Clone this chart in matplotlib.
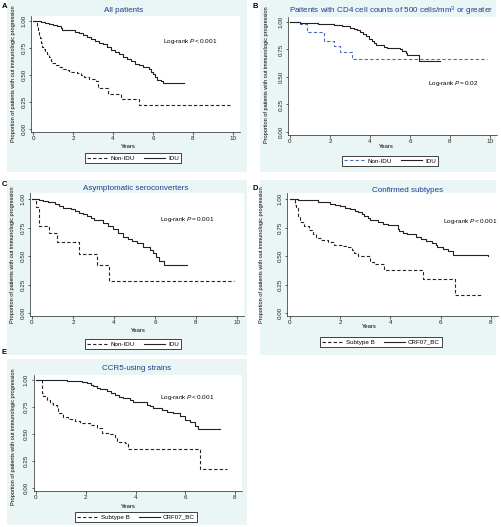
import matplotlib
matplotlib.use('Agg')
import matplotlib.pyplot as plt
from matplotlib.patches import Rectangle
from matplotlib.lines import Line2D

plt.rcParams['font.family'] = ['Liberation Sans', 'DejaVu Sans']
plt.rcParams['mathtext.fontset'] = 'custom'
plt.rcParams['mathtext.rm'] = 'Liberation Sans'
plt.rcParams['mathtext.it'] = 'Liberation Sans:italic'

W, H = 502, 527
BG = '#e9f6f5'
NAVY = '#203c8c'
INK = '#222222'
BLUE = '#4a6fb5'
YLAB = 'Proportion of patients with out immunologic progression'

# ---- data (years, proportion without progression) ----
# A: all patients
a_idu_t = [0, 0.4, 0.6, 0.8, 1.0, 1.2, 1.4, 1.45, 1.9, 2.1, 2.3, 2.5, 2.7, 2.9, 3.1, 3.3, 3.5, 3.7,
           3.9, 4.1, 4.3, 4.5, 4.7, 4.9, 5.1, 5.3, 5.5, 5.8, 5.9, 6.0, 6.1, 6.2, 6.4, 6.5, 7.55]
a_idu_s = [1.0, 0.995, 0.985, 0.975, 0.965, 0.955, 0.935, 0.92, 0.915, 0.90, 0.885, 0.87, 0.855,
           0.835, 0.815, 0.80, 0.785, 0.76, 0.735, 0.71, 0.69, 0.665, 0.645, 0.625, 0.605, 0.59,
           0.575, 0.555, 0.53, 0.505, 0.48, 0.455, 0.445, 0.425, 0.425]
a_non_t = [0, 0.2, 0.25, 0.3, 0.35, 0.4, 0.45, 0.55, 0.62, 0.72, 0.8, 0.88, 0.95, 1.13, 1.3, 1.47,
           1.65, 1.8, 2.2, 2.4, 2.55, 2.8, 3.15, 3.25, 3.75, 4.4, 5.3, 9.85]
a_non_s = [1.0, 0.95, 0.91, 0.87, 0.84, 0.80, 0.76, 0.74, 0.71, 0.69, 0.67, 0.63, 0.61, 0.59, 0.575,
           0.56, 0.545, 0.53, 0.515, 0.50, 0.485, 0.46, 0.44, 0.38, 0.32, 0.28, 0.225, 0.225]

# B: CD4 >= 500
b_idu_t = [0, 0.5, 1.4, 2.2, 2.6, 3.0, 3.2, 3.35, 3.5, 3.65, 3.8, 3.95, 4.1, 4.2, 4.3, 4.7, 4.85,
           5.5, 5.6, 5.8, 5.85, 6.45, 7.5]
b_idu_s = [1.0, 0.99, 0.98, 0.97, 0.96, 0.95, 0.94, 0.925, 0.91, 0.895, 0.87, 0.85, 0.83, 0.81,
           0.79, 0.775, 0.76, 0.75, 0.735, 0.72, 0.70, 0.645, 0.645]
b_non_t = [0, 0.5, 0.85, 1.7, 2.2, 2.5, 3.1, 9.85]
b_non_s = [1.0, 0.98, 0.91, 0.83, 0.78, 0.73, 0.66, 0.66]

# C: asymptomatic seroconverters
c_idu_t = [0, 0.35, 0.55, 0.8, 1.1, 1.3, 1.5, 1.9, 2.1, 2.3, 2.5, 2.7, 2.9, 3.0, 3.45, 3.7, 3.95,
           4.2, 4.45, 4.7, 4.9, 5.1, 5.4, 5.75, 5.9, 6.05, 6.2, 6.45, 7.55]
c_idu_s = [1.0, 0.99, 0.98, 0.97, 0.955, 0.94, 0.925, 0.91, 0.895, 0.88, 0.87, 0.85, 0.83, 0.815,
           0.79, 0.765, 0.735, 0.70, 0.67, 0.65, 0.63, 0.61, 0.58, 0.555, 0.53, 0.49, 0.46, 0.425,
           0.425]
c_non_t = [0, 0.2, 0.35, 0.85, 1.2, 2.3, 3.15, 3.75, 9.85]
c_non_s = [1.0, 0.93, 0.76, 0.70, 0.62, 0.52, 0.42, 0.28, 0.28]

# D: confirmed subtypes
d_crf_t = [0, 0.3, 0.5, 1.1, 1.6, 1.8, 2.0, 2.2, 2.4, 2.6, 2.7, 2.85, 2.95, 3.1, 3.2, 3.5, 3.7,
           3.9, 4.3, 4.35, 4.5, 4.67, 5.0, 5.2, 5.4, 5.67, 5.8, 5.87, 6.07, 6.27, 6.47, 7.9]
d_crf_s = [1.0, 0.995, 0.99, 0.977, 0.96, 0.95, 0.935, 0.92, 0.91, 0.895, 0.885, 0.87, 0.855,
           0.835, 0.82, 0.80, 0.78, 0.77, 0.735, 0.72, 0.70, 0.69, 0.67, 0.645, 0.63, 0.61, 0.595,
           0.58, 0.56, 0.545, 0.51, 0.50]
d_b_t = [0, 0.2, 0.22, 0.3, 0.4, 0.56, 0.76, 0.9, 1.02, 1.22, 1.5, 1.75, 2.1, 2.3, 2.45, 2.55, 2.7,
         3.2, 3.35, 3.75, 5.28, 6.57, 7.63]
d_b_s = [1.0, 0.95, 0.92, 0.85, 0.80, 0.76, 0.73, 0.69, 0.66, 0.64, 0.62, 0.60, 0.59, 0.575, 0.555,
         0.53, 0.50, 0.45, 0.43, 0.38, 0.30, 0.16, 0.16]

# E: CCR5-using strains
e_crf_t = [0, 1.23, 1.6, 1.84, 2.04, 2.2, 2.3, 2.45, 2.57, 2.84, 3.0, 3.18, 3.35, 3.5, 3.78, 3.9,
           4.45, 4.6, 4.72, 5.05, 5.25, 5.5, 5.8, 6.0, 6.2, 6.4, 6.5, 7.4]
e_crf_s = [1.0, 0.995, 0.99, 0.985, 0.97, 0.955, 0.945, 0.93, 0.92, 0.90, 0.88, 0.86, 0.845, 0.83,
           0.815, 0.80, 0.77, 0.755, 0.74, 0.72, 0.70, 0.69, 0.67, 0.63, 0.615, 0.575, 0.545, 0.545]
e_b_t = [0, 0.25, 0.3, 0.43, 0.56, 0.7, 0.83, 0.9, 1.1, 1.3, 1.57, 1.77, 2.17, 2.44, 2.64, 2.98,
         3.18, 3.24, 3.58, 3.7, 6.6, 7.67]
e_b_s = [1.0, 0.88, 0.85, 0.815, 0.79, 0.77, 0.74, 0.69, 0.66, 0.64, 0.625, 0.605, 0.585, 0.555,
         0.51, 0.50, 0.47, 0.43, 0.415, 0.36, 0.18, 0.18]

y_ticks = [0, 0.25, 0.5, 0.75, 1.0]
y_labels = ['0.00', '0.25', '0.50', '0.75', '1.00']

fig = plt.figure(figsize=(W / 100, H / 100), dpi=100)
fig.patch.set_facecolor('white')


def fx(px):
    return px / W


def fy(py):
    return 1 - py / H


def panel(box, letter, letter_xy, title, title_xy, grid, xmax, ylab_xy, xlab_xy,
          curves, labels, leg_xy, note, note_xy):
    # cyan graph region, kept under the axes
    x0, y0, x1, y1 = box
    fig.patches.append(Rectangle((fx(x0), fy(y1)), (x1 - x0) / W, (y1 - y0) / H,
                                 transform=fig.transFigure, facecolor=BG, edgecolor='none',
                                 zorder=-5))
    fig.text(fx(letter_xy[0]), fy(letter_xy[1]), letter, fontsize=5.5, fontweight='bold',
             ha='left', va='center')
    fig.text(fx(title_xy[0]), fy(title_xy[1]), title, fontsize=5.8, color=NAVY,
             ha='center', va='center')

    # axes placed so that tick positions match the picture
    px_x0, px_xn, px_y1, px_y0 = grid
    xlim = (-0.1, xmax * 1.035)
    ylim = (-0.025, 1.05)
    sx = (px_xn - px_x0) / xmax
    sy = px_y0 - px_y1
    l = px_x0 + xlim[0] * sx
    r = px_x0 + xlim[1] * sx
    t = px_y0 - ylim[1] * sy
    b = px_y0 - ylim[0] * sy
    ax = fig.add_axes([fx(l), fy(b), (r - l) / W, (b - t) / H], zorder=2)
    ax.set_facecolor('white')
    ax.set_xlim(xlim)
    ax.set_ylim(ylim)
    for side in ['top', 'right']:
        ax.spines[side].set_visible(False)
    for side in ['left', 'bottom']:
        ax.spines[side].set_color(INK)
        ax.spines[side].set_linewidth(0.5)
    ax.set_xticks(range(0, xmax + 1, 2))
    ax.set_yticks(y_ticks)
    ax.set_yticklabels(y_labels)
    ax.tick_params(direction='out', length=1.8, width=0.5, colors=INK, labelsize=4.5, pad=1.5)
    for lbl in ax.get_yticklabels():
        lbl.set_rotation(90)
        lbl.set_va('center')

    handles = []
    for (t_, s_), style, col in curves:
        ax.step(t_, s_, where='post', color=col, lw=0.8, linestyle=style)
        handles.append(Line2D([], [], color=col, lw=0.8, linestyle=style))

    fig.text(fx(ylab_xy[0]), fy(ylab_xy[1]), YLAB, rotation=90, fontsize=4.0,
             ha='center', va='center')
    fig.text(fx(xlab_xy[0]), fy(xlab_xy[1]), 'Years', fontsize=4.2, ha='center', va='center')
    fig.text(fx(note_xy[0]), fy(note_xy[1]), note, fontsize=4.6, ha='left', va='center',
             zorder=5)

    leg = ax.legend(handles, labels, loc='center', ncol=2,
                    bbox_to_anchor=(fx(leg_xy[0]), fy(leg_xy[1])), bbox_transform=fig.transFigure,
                    fontsize=4.5, frameon=True, fancybox=False, edgecolor=INK, framealpha=1,
                    borderpad=0.3, handlelength=3.3, handletextpad=0.5, columnspacing=1.5)
    leg.get_frame().set_linewidth(0.6)
    return ax


DASH = (0, (3, 2))
grp = ['Non-IDU', 'IDU']
sub = ['Subtype B', 'CRF07_BC']

panel((7, 0, 247, 172), 'A', (2, 6), 'All patients', (124, 10),
      (33, 233, 21, 129), 10, (14, 74), (128, 146),
      [((a_non_t, a_non_s), DASH, INK), ((a_idu_t, a_idu_s), '-', INK)], grp, (133, 158),
      'Log-rank $P$< 0.001', (163, 42))

panel((260, 0, 496, 172), 'B', (253, 6),
      'Paitents with CD4 cell counts of 500 cells/mm$^3$ or greater', (391, 11),
      (290, 490, 22, 132), 10, (267, 75), (386, 147),
      [((b_non_t, b_non_s), DASH, BLUE), ((b_idu_t, b_idu_s), '-', INK)], grp, (390, 161),
      'Log-rank $P$= 0.02', (428, 84))

panel((7, 180, 247, 355), 'C', (2, 184), 'Asymptomatic seroconverters', (136, 189),
      (32, 237, 199, 313), 10, (13, 255), (138, 330),
      [((c_non_t, c_non_s), DASH, INK), ((c_idu_t, c_idu_s), '-', INK)], grp, (133, 344),
      'Log-rank $P$= 0.001', (160, 220))

panel((260, 180, 496, 355), 'D', (253, 188), 'Confirmed subtypes', (408, 190),
      (290, 491, 199, 313), 8, (262, 255), (369, 327),
      [((d_b_t, d_b_s), DASH, INK), ((d_crf_t, d_crf_s), '-', INK)], sub, (381, 342),
      'Log-rank $P$< 0.001', (443, 222))

panel((7, 359, 247, 525), 'E', (2, 352), 'CCR5-using strains', (137, 369),
      (36, 235, 380, 488), 8, (14, 437), (128, 506),
      [((e_b_t, e_b_s), DASH, INK), ((e_crf_t, e_crf_s), '-', INK)], sub, (136, 517),
      'Log-rank $P$< 0.001', (160, 397))

fig.savefig('out.png', dpi=100, facecolor='white')
